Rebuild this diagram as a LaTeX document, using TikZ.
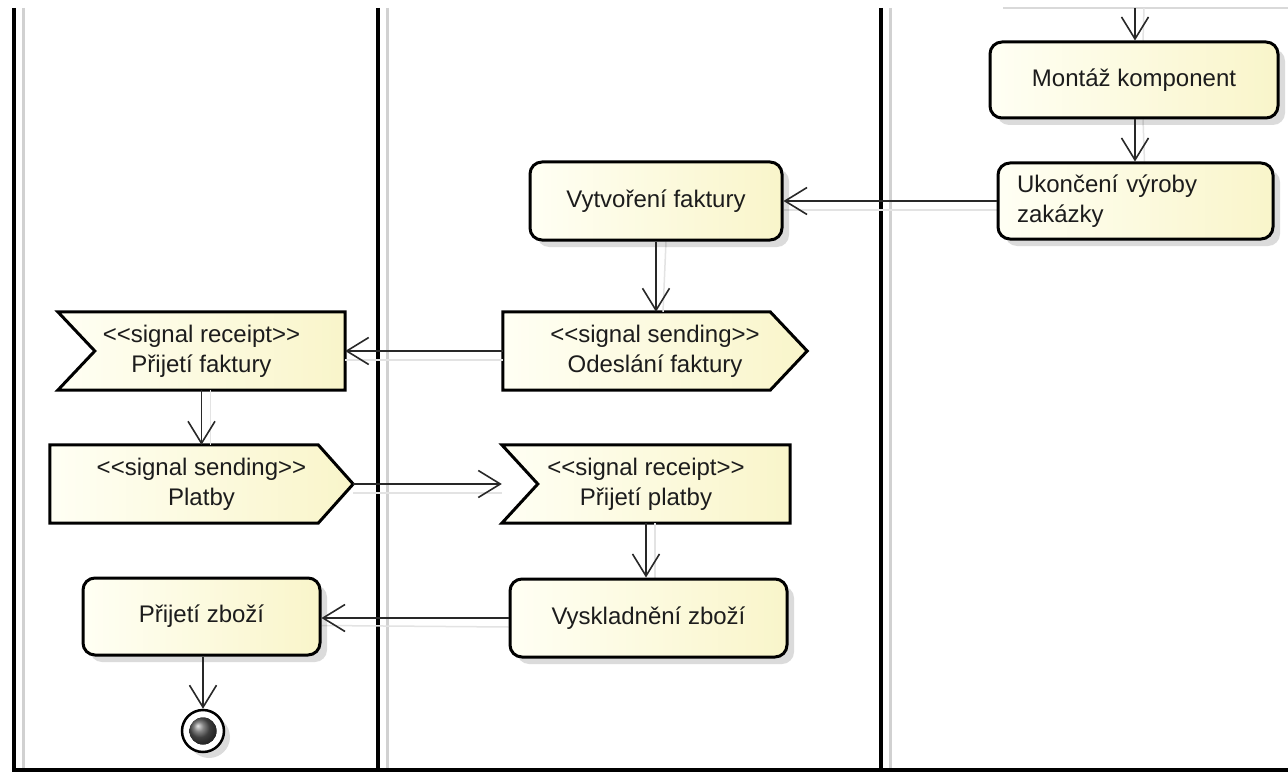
\documentclass[tikz,border=0pt]{standalone}
\usepackage{fontspec}
\setmainfont{Liberation Sans}[Ligatures=TeXOff]
\usetikzlibrary{arrows.meta,shadows,backgrounds}
\definecolor{boxL}{RGB}{255,255,244}
\definecolor{boxR}{RGB}{249,245,202}
\definecolor{txt}{RGB}{28,28,28}
\definecolor{lnk}{RGB}{40,40,40}
\tikzset{
 act/.style={draw=black, line width=3pt, rounded corners=12pt, left color=boxL, right color=boxR,
   text=txt, inner sep=0pt, drop shadow={shadow xshift=7pt, shadow yshift=-7pt, fill=black, opacity=.14}},
 sigtext/.style={inner sep=0pt, align=center, text=txt},
 sigshape/.style={draw=black, line width=3pt, line join=miter, left color=boxL, right color=boxR},
 sigshadow/.style={fill=black, opacity=.14},
 flow/.style={draw=lnk, line width=1.6pt, -{Straight Barb[length=22pt,width=27pt]}},
 flowsh/.style={draw=black!11, line width=1.5pt},
 lane/.style={line width=3.5pt, draw=black},
 laneshadow/.style={line width=2.5pt, draw=black!18},
 finalnode/.style={circle, draw=black, line width=2.5pt, fill=white, minimum size=42pt, inner sep=0pt,
   drop shadow={shadow xshift=6pt, shadow yshift=-6pt, fill=black, opacity=.14}},
}
\begin{document}
\begin{tikzpicture}[x=1pt,y=-1pt, font=\fontsize{24}{30}\selectfont]
\useasboundingbox (0,0) rectangle (1288,773);

% ---- action nodes
\node[act, minimum width=288pt, minimum height=76pt] (mont) at (1134,80) {Montáž komponent};
\node[act, minimum width=275pt, minimum height=76pt, text width=237pt, align=left] (ukon) at (1135.5,201) {Ukončení výroby\\zakázky};
\node[act, minimum width=252pt, minimum height=78pt] (vytv) at (656,201) {Vytvoření faktury};
\node[act, minimum width=277pt, minimum height=78pt] (vysk) at (648.5,618) {Vyskladnění zboží};
\node[act, minimum width=237pt, minimum height=77pt] (przb) at (201.5,616.5) {Přijetí zboží};

% ---- signal nodes (text; outline drawn on background layer)
\node[sigtext, minimum width=304pt, minimum height=78pt] (odes) at (655,351) {<<signal sending>>\\Odeslání faktury};
\node[sigtext, minimum width=287pt, minimum height=78pt] (prfak) at (201.5,351) {<<signal receipt>>\\Přijetí faktury};
\node[sigtext, minimum width=303pt, minimum height=78pt] (platby) at (201.5,484) {<<signal sending>>\\Platby};
\node[sigtext, minimum width=288pt, minimum height=78pt] (prplat) at (646,484) {<<signal receipt>>\\Přijetí platby};

% ---- final node
\node[finalnode] (final) at (203,731) {};
\fill[ball color=black!65] (final.center) circle (13.5pt);

\coordinate (topin) at (1135,8);

% ---- background: lanes, signal shapes, connector shadows
\begin{pgfonlayer}{background}
\fill[white] (0,0) rectangle (1288,773);
\draw[black!15, line width=2pt] (1003,8) -- (1288,8);
\foreach \xx in {14,378,881}{
  \draw[laneshadow] (\xx+9.5,8) -- (\xx+9.5,770);
}
\foreach \xx in {14,378,881}{
  \draw[lane] (\xx,8) -- (\xx,771.75);
}
\draw[lane] (12.25,770) -- (1288,770);

% signal sending shapes
\foreach \n/\d in {odes/37,platby/35}{
  \fill[sigshadow, shift={(7,7)}] (\n.north west) -- ([xshift=-\d pt]\n.north east) -- (\n.east) -- ([xshift=-\d pt]\n.south east) -- (\n.south west) -- cycle;
  \path[sigshape] (\n.north west) -- ([xshift=-\d pt]\n.north east) -- (\n.east) -- ([xshift=-\d pt]\n.south east) -- (\n.south west) -- cycle;
}
% signal receipt shapes
\foreach \n/\d in {prfak/37,prplat/36}{
  \fill[sigshadow, shift={(7,7)}] (\n.north west) -- (\n.north east) -- (\n.south east) -- (\n.south west) -- ([xshift=\d pt]\n.west) -- cycle;
  \path[sigshape] (\n.north west) -- (\n.north east) -- (\n.south east) -- (\n.south west) -- ([xshift=\d pt]\n.west) -- cycle;
}

% connector shadows
\draw[flowsh] ([xshift=9pt]topin) -- ([xshift=9pt]mont.north);
\draw[flowsh] ([xshift=9pt]mont.south) -- ([xshift=9pt]ukon.north);
\draw[flowsh] ([yshift=-9pt]ukon.west) -- ([yshift=-9pt]vytv.east);
\draw[flowsh] ([xshift=10pt]vytv.south) -- ([xshift=8pt]odes.north);
\draw[flowsh] ([yshift=-9pt]odes.west) -- ([yshift=-9pt]prfak.east);
\draw[flowsh] ([xshift=9pt]prfak.south) -- ([xshift=9pt]platby.north);
\draw[flowsh] ([yshift=-9pt]platby.east) -- ([yshift=-9pt]prplat.west);
\draw[flowsh] ([xshift=9pt]prplat.south) -- ([xshift=9pt]prplat.south |- vysk.north);
\draw[flowsh] ([yshift=-9pt]vysk.west) -- ([yshift=-9pt]przb.east);
\end{pgfonlayer}

% ---- connectors
\draw[flow] (topin) -- (mont.north -| topin);
\draw[flow] (mont.south -| topin) -- (ukon.north -| topin);
\draw[flow] (ukon.west |- vytv.east) -- (vytv.east);
\draw[flow] (vytv.south) -- (odes.north -| vytv.south);
\draw[flow] (odes.west) -- (prfak.east);
\draw[flow] (prfak.south) -- (platby.north);
\draw[flow] (platby.east) -- (prplat.west);
\draw[flow] (prplat.south) -- (prplat.south |- vysk.north);
\draw[flow] (vysk.west) -- (przb.east |- vysk.west);
\draw[flow] (przb.south -| final) -- (final.north);
\end{tikzpicture}
\end{document}
